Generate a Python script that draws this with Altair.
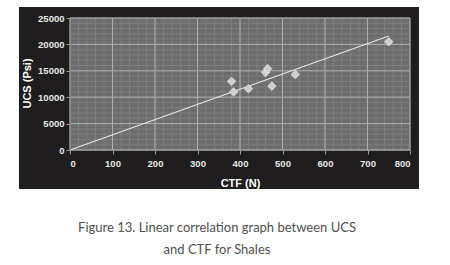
import altair as alt
import pandas as pd

# data
ctf = [380, 385, 420, 460, 465, 475, 530, 750]
ucs = [13000, 11000, 11600, 14700, 15400, 12100, 14300, 20500]
fit_x = [0, 750]
fit_y = [0, 21600]
x_major = [0, 100, 200, 300, 400, 500, 600, 700, 800]
y_major = [0, 5000, 10000, 15000, 20000, 25000]
x_minor = list(range(0, 801, 20))
y_minor = list(range(0, 25001, 1000))
caption = ["Figure 13. Linear correlation graph between UCS", "and  CTF for Shales"]

W, H = 340, 132
xs = alt.Scale(domain=[0, 800], nice=False, zero=False)
ys = alt.Scale(domain=[0, 25000], nice=False)

axis_common = dict(grid=False, zindex=2, labelFont="Liberation Sans", labelFontSize=9.5,
                   labelFontWeight="bold", labelColor="#e8e8e8", tickColor="#9a9a9a", tickSize=4,
                   domainColor="#8a8a8a", titleFont="Liberation Sans", titleFontSize=11,
                   titleFontWeight="bold", titleColor="#ffffff")
xaxis = alt.Axis(title="CTF (N)", values=x_major, labelPadding=4, titlePadding=10, **axis_common)
yaxis = alt.Axis(title="UCS (Psi)", values=y_major, format="d", labelPadding=2,
                 titleX=-43, titleY=65, titleBaseline="middle", **axis_common)

pts = pd.DataFrame({"ctf": ctf, "ucs": ucs})
fit = pd.DataFrame({"ctf": fit_x, "ucs": fit_y})

black = alt.Chart(alt.Data(values=[{}])).mark_rect(color="#1f1d1d").encode(
    x=alt.value(-51), x2=alt.value(349), y=alt.value(-11), y2=alt.value(171))
gray = alt.Chart(alt.Data(values=[{}])).mark_rect(color="#6d6d6d").encode(
    x=alt.value(0), x2=alt.value(W), y=alt.value(0), y2=alt.value(H))

mxr = alt.Chart(pd.DataFrame({"ctf": x_minor})).mark_rule(color="#7d7d7d", strokeWidth=1).encode(
    x=alt.X("ctf:Q", scale=xs, axis=xaxis))
myr = alt.Chart(pd.DataFrame({"ucs": y_minor})).mark_rule(color="#7d7d7d", strokeWidth=1).encode(
    y=alt.Y("ucs:Q", scale=ys, axis=yaxis))
Mxr = alt.Chart(pd.DataFrame({"ctf": x_major})).mark_rule(color="#b0b0b0", strokeWidth=1).encode(
    x=alt.X("ctf:Q", scale=xs, axis=xaxis))
Myr = alt.Chart(pd.DataFrame({"ucs": y_major})).mark_rule(color="#b0b0b0", strokeWidth=1).encode(
    y=alt.Y("ucs:Q", scale=ys, axis=yaxis))

line = alt.Chart(fit).mark_line(color="#e6e6e6", strokeWidth=1.2).encode(
    x=alt.X("ctf:Q", scale=xs, axis=xaxis),
    y=alt.Y("ucs:Q", scale=ys, axis=yaxis))

points = alt.Chart(pts).mark_point(shape="diamond", filled=True, size=75, color="#cfcfcf",
                                   stroke="#eeeeee", strokeWidth=0.6, opacity=1).encode(
    x=alt.X("ctf:Q", scale=xs, axis=xaxis), y=alt.Y("ucs:Q", scale=ys, axis=yaxis))

cap1 = alt.Chart(alt.Data(values=[{"t": caption[0]}])).mark_text(
    font="Lato", fontSize=13, color="#505050", align="center", baseline="middle").encode(
    x=alt.value(147), y=alt.value(210), text="t:N")
cap2 = alt.Chart(alt.Data(values=[{"t": caption[1]}])).mark_text(
    font="Lato", fontSize=13, color="#505050", align="center", baseline="middle").encode(
    x=alt.value(147), y=alt.value(232), text="t:N")

chart = alt.layer(black, gray, mxr, myr, Mxr, Myr, line, points, cap1, cap2).properties(
    width=W, height=H, autosize="none",
    padding={"left": 70, "top": 18, "right": 40, "bottom": 115},
    background="white",
).configure_view(stroke=None)

chart.save("out.html", embed_options={"renderer": "svg", "actions": False})
